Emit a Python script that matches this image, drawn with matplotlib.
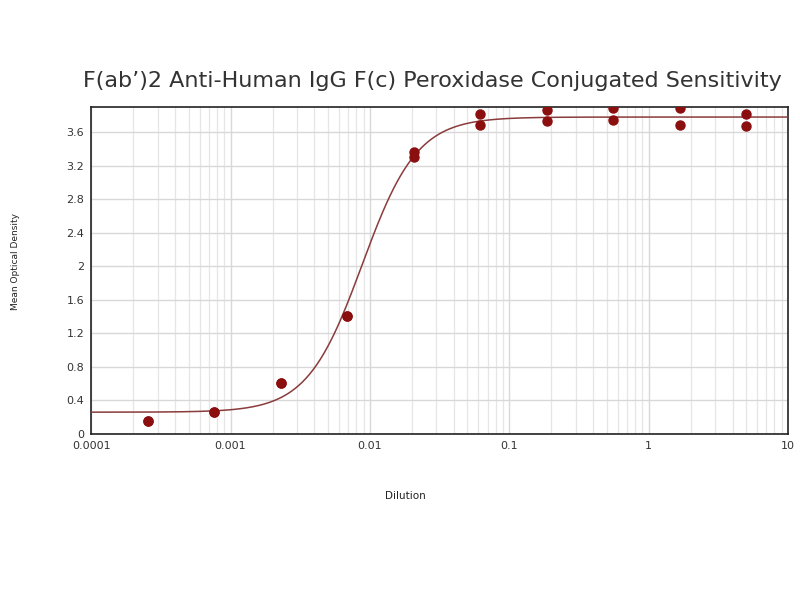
import numpy as np
import matplotlib
matplotlib.use("Agg")
import matplotlib.pyplot as plt
from matplotlib.ticker import FixedLocator, LogLocator, NullFormatter

# Dilutions (3-fold series) and measured OD, two replicates where visible
dilution = [0.000254, 0.000762, 0.00229, 0.00686, 0.0206, 0.0617, 0.185, 0.556, 1.667, 5.0]
od_rep1 = [0.15, 0.26, 0.61, 1.41, 3.36, 3.82, 3.86, 3.89, 3.89, 3.82]
od_rep2 = [0.15, 0.26, 0.61, 1.41, 3.30, 3.69, 3.73, 3.74, 3.68, 3.67]

# 4-parameter logistic fit: bottom, top, ec50, hill
fit_bottom = 0.26
fit_top = 3.78
fit_ec50 = 0.0088
fit_hill = 2.2

xticks = [0.0001, 0.001, 0.01, 0.1, 1, 10]
xtick_labels = ["0.0001", "0.001", "0.01", "0.1", "1", "10"]
yticks = [0, 0.4, 0.8, 1.2, 1.6, 2, 2.4, 2.8, 3.2, 3.6]
ytick_labels = ["0", "0.4", "0.8", "1.2", "1.6", "2", "2.4", "2.8", "3.2", "3.6"]

fig = plt.figure(figsize=(8, 6), dpi=100)
ax = fig.add_axes([0.114, 0.2767, 0.871, 0.545])

xs = np.logspace(-4, 1, 400)
curve = fit_bottom + (fit_top - fit_bottom) / (1 + (fit_ec50 / xs) ** fit_hill)
ax.plot(xs, curve, color="#8a3b3b", lw=1.1, zorder=3)

ax.plot(dilution, od_rep1, "o", color="#8b0f0f", ms=6.5, zorder=4)
ax.plot(dilution, od_rep2, "o", color="#8b0f0f", ms=6.5, zorder=4)

ax.set_xscale("log")
ax.set_xlim(0.0001, 10)
ax.set_ylim(0, 3.9)
ax.xaxis.set_major_locator(FixedLocator(xticks))
ax.set_xticklabels(xtick_labels)
ax.xaxis.set_minor_locator(LogLocator(base=10, subs=np.arange(2, 10)))
ax.xaxis.set_minor_formatter(NullFormatter())
ax.set_yticks(yticks)
ax.set_yticklabels(ytick_labels)

ax.grid(True, which="major", color="#d8d8d8", lw=1.0)
ax.grid(True, which="minor", axis="x", color="#e6e6e6", lw=0.9)
ax.set_axisbelow(True)
ax.tick_params(which="both", length=0, labelsize=8, colors="#333333", pad=5)
for s in ax.spines.values():
    s.set_color("#222222")
    s.set_linewidth(1.2)

fig.text(0.54, 0.865, "F(ab\u2019)2 Anti-Human IgG F(c) Peroxidase Conjugated Sensitivity",
         ha="center", va="center", fontsize=16, color="#333333")
fig.text(0.02, 0.565, "Mean Optical Density", rotation=90, ha="center", va="center",
         fontsize=6.5, color="#222222")
fig.text(0.507, 0.173, "Dilution", ha="center", va="center", fontsize=7.5, color="#222222")

fig.savefig("out.png", dpi=100)
